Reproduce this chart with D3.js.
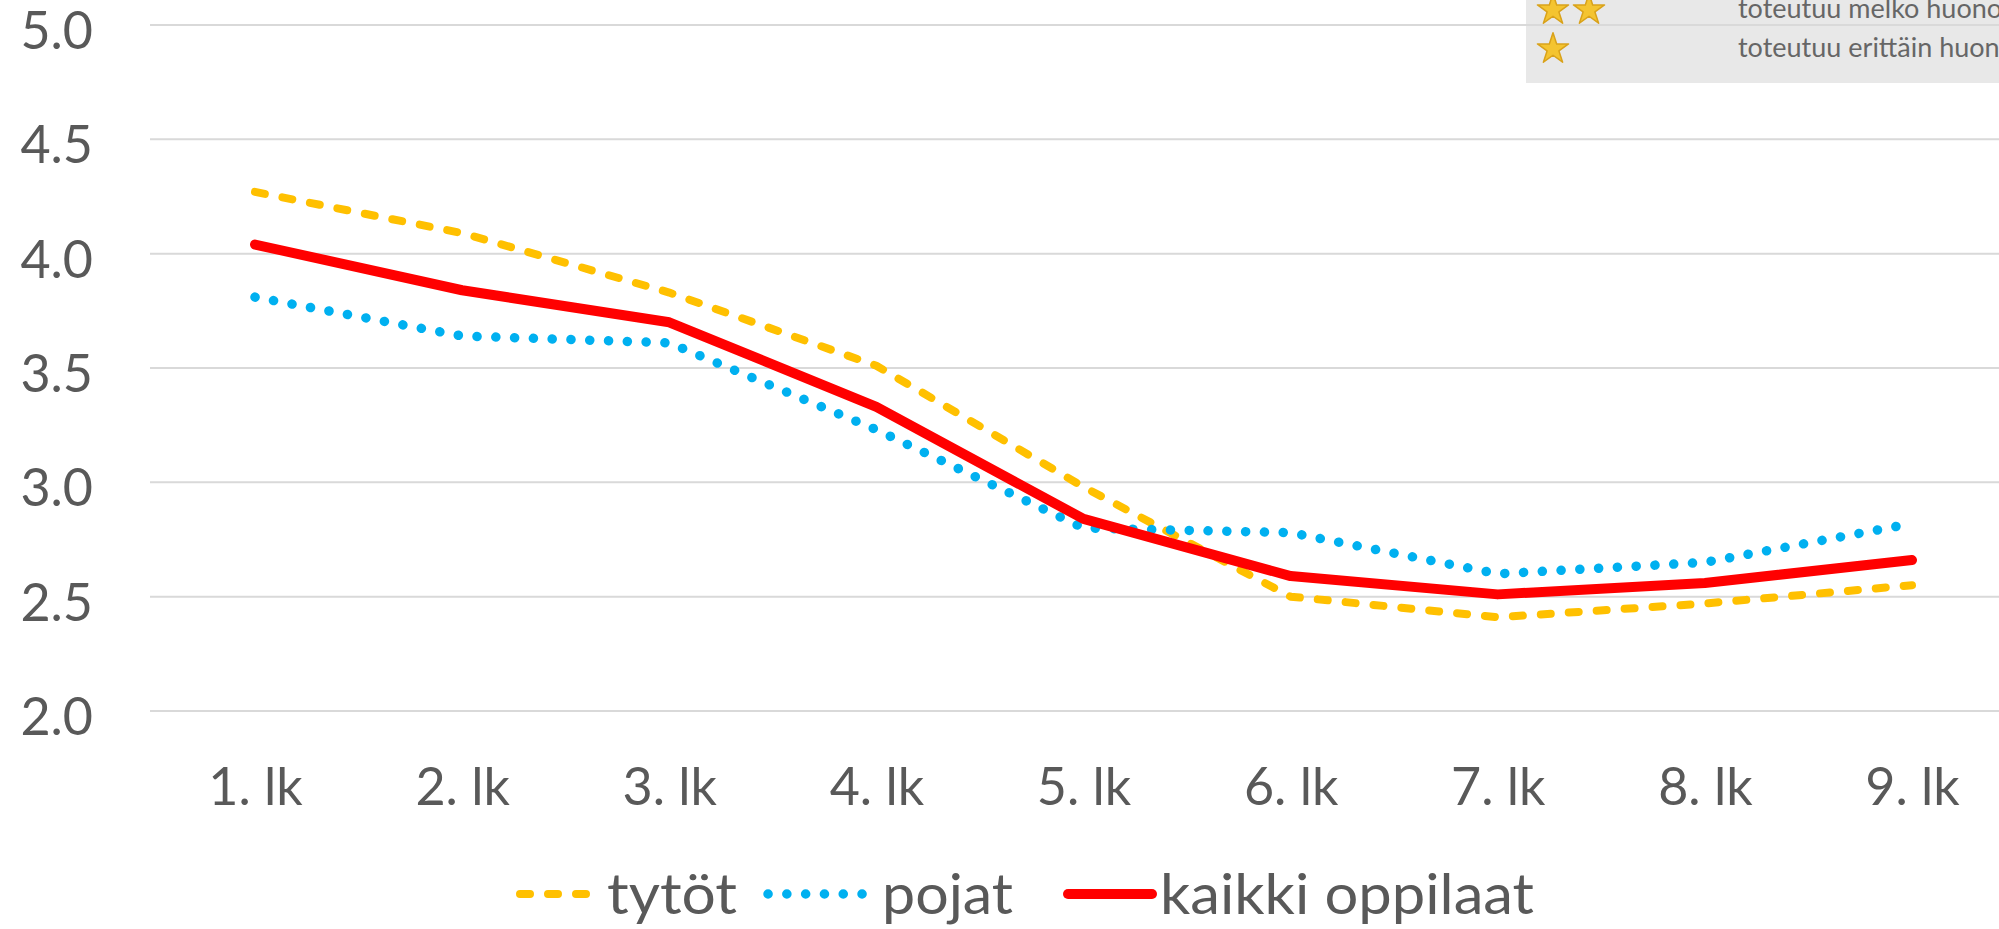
<!doctype html>
<html>
<head>
<meta charset="utf-8">
<style>
  body { margin: 0; background: #fff; }
  #chart { display: block; }
  #chart text { font-family: "Lato", "Open Sans", sans-serif; fill: #595959; }
  #chart .grid line { stroke: #d9d9d9; stroke-width: 2; }
  #chart .domain { display: none; }
</style>
</head>
<body>
<svg id="chart"></svg>
<script src="https://cdn.jsdelivr.net/npm/d3@7"></script>
<script>
var categories = ["1. lk", "2. lk", "3. lk", "4. lk", "5. lk", "6. lk", "7. lk", "8. lk", "9. lk"];
var tytot  = [4.27, 4.09, 3.83, 3.51, 2.98, 2.50, 2.41, 2.47, 2.55];
var pojat  = [3.81, 3.64, 3.61, 3.23, 2.80, 2.78, 2.60, 2.65, 2.82];
var kaikki = [4.04, 3.84, 3.70, 3.33, 2.84, 2.59, 2.51, 2.56, 2.66];
var yTicks = [2.0, 2.5, 3.0, 3.5, 4.0, 4.5, 5.0];
var seriesNames = ["tytöt", "pojat", "kaikki oppilaat"];
var boxRows = [{stars: 2, label: "toteutuu melko huono"}, {stars: 1, label: "toteutuu erittäin huono"}];

var width = 1999, height = 929;
var svg = d3.select("#chart").attr("width", width).attr("height", height);

var x = d3.scalePoint().domain(categories).range([255, 1912]);
var y = d3.scaleLinear().domain([2, 5]).range([711, 25]);

// grey info box in the top right corner (cut off by the picture edge)
var box = svg.append("g");
box.append("rect")
  .attr("x", 1526).attr("y", -10).attr("width", 500).attr("height", 93)
  .attr("fill", "#e8e8e8");
boxRows.forEach(function(r, i) {
  var base = i == 0 ? 18 : 57;
  for (var s = 0; s < r.stars; s++) {
    box.append("path")
      .attr("d", d3.symbol().type(d3.symbolStar).size(300)())
      .attr("transform", "translate(" + (1553 + s * 36) + "," + (base - 8) + ")")
      .attr("fill", "#f4c430").attr("stroke", "#d9a21b").attr("stroke-width", 1.5)
      .attr("stroke-linejoin", "round");
  }
  box.append("text")
    .attr("x", 1738).attr("y", base)
    .attr("font-size", 27)
    .style("fill", "#666")
    .text(r.label);
});

// horizontal gridlines
svg.append("g").attr("class", "grid")
  .selectAll("line").data(yTicks).enter().append("line")
    .attr("x1", 150).attr("x2", width)
    .attr("y1", function(d) { return y(d); })
    .attr("y2", function(d) { return y(d); });

// y axis labels
var yAxis = d3.axisLeft(y).tickValues(yTicks).tickSize(0).tickPadding(0)
  .tickFormat(d3.format(".1f"));
svg.append("g")
  .attr("transform", "translate(93,0)")
  .call(yAxis)
  .call(function(g) {
    g.selectAll("text").attr("font-size", 52).attr("dy", "0.45em");
  });

// x axis labels
var xAxis = d3.axisBottom(x).tickSize(0).tickPadding(0);
svg.append("g")
  .attr("transform", "translate(0,768)")
  .call(xAxis)
  .call(function(g) {
    g.selectAll("text").attr("font-size", 52).attr("dy", "0.71em");
  });

var line = d3.line()
  .x(function(d, i) { return x(categories[i]); })
  .y(function(d) { return y(d); });

var styles = [
  {data: tytot,  color: "#ffc000", width: 8, dash: "10 18"},
  {data: pojat,  color: "#00b0f0", width: 9.5, dash: "0.1 18.7"},
  {data: kaikki, color: "#ff0000", width: 10, dash: null}
];

styles.forEach(function(s) {
  svg.append("path")
    .datum(s.data)
    .attr("d", line)
    .attr("fill", "none")
    .attr("stroke", s.color)
    .attr("stroke-width", s.width)
    .attr("stroke-linecap", "round")
    .attr("stroke-linejoin", "round")
    .attr("stroke-dasharray", s.dash);
});

// legend
var legendItems = [
  {x1: 520, x2: 592, tx: 607, tw: 130},
  {x1: 768, x2: 878, tx: 882, tw: 131},
  {x1: 1068, x2: 1152, tx: 1160, tw: 374}
];
var legend = svg.append("g");
legendItems.forEach(function(li, i) {
  legend.append("line")
    .attr("x1", li.x1).attr("x2", li.x2).attr("y1", 894).attr("y2", 894)
    .attr("stroke", styles[i].color)
    .attr("stroke-width", styles[i].width)
    .attr("stroke-linecap", "round")
    .attr("stroke-dasharray", styles[i].dash);
  legend.append("text")
    .attr("x", li.tx).attr("y", 894).attr("dy", "0.35em")
    .attr("font-size", 56)
    .attr("textLength", li.tw).attr("lengthAdjust", "spacingAndGlyphs")
    .text(seriesNames[i]);
});
</script>
</body>
</html>
